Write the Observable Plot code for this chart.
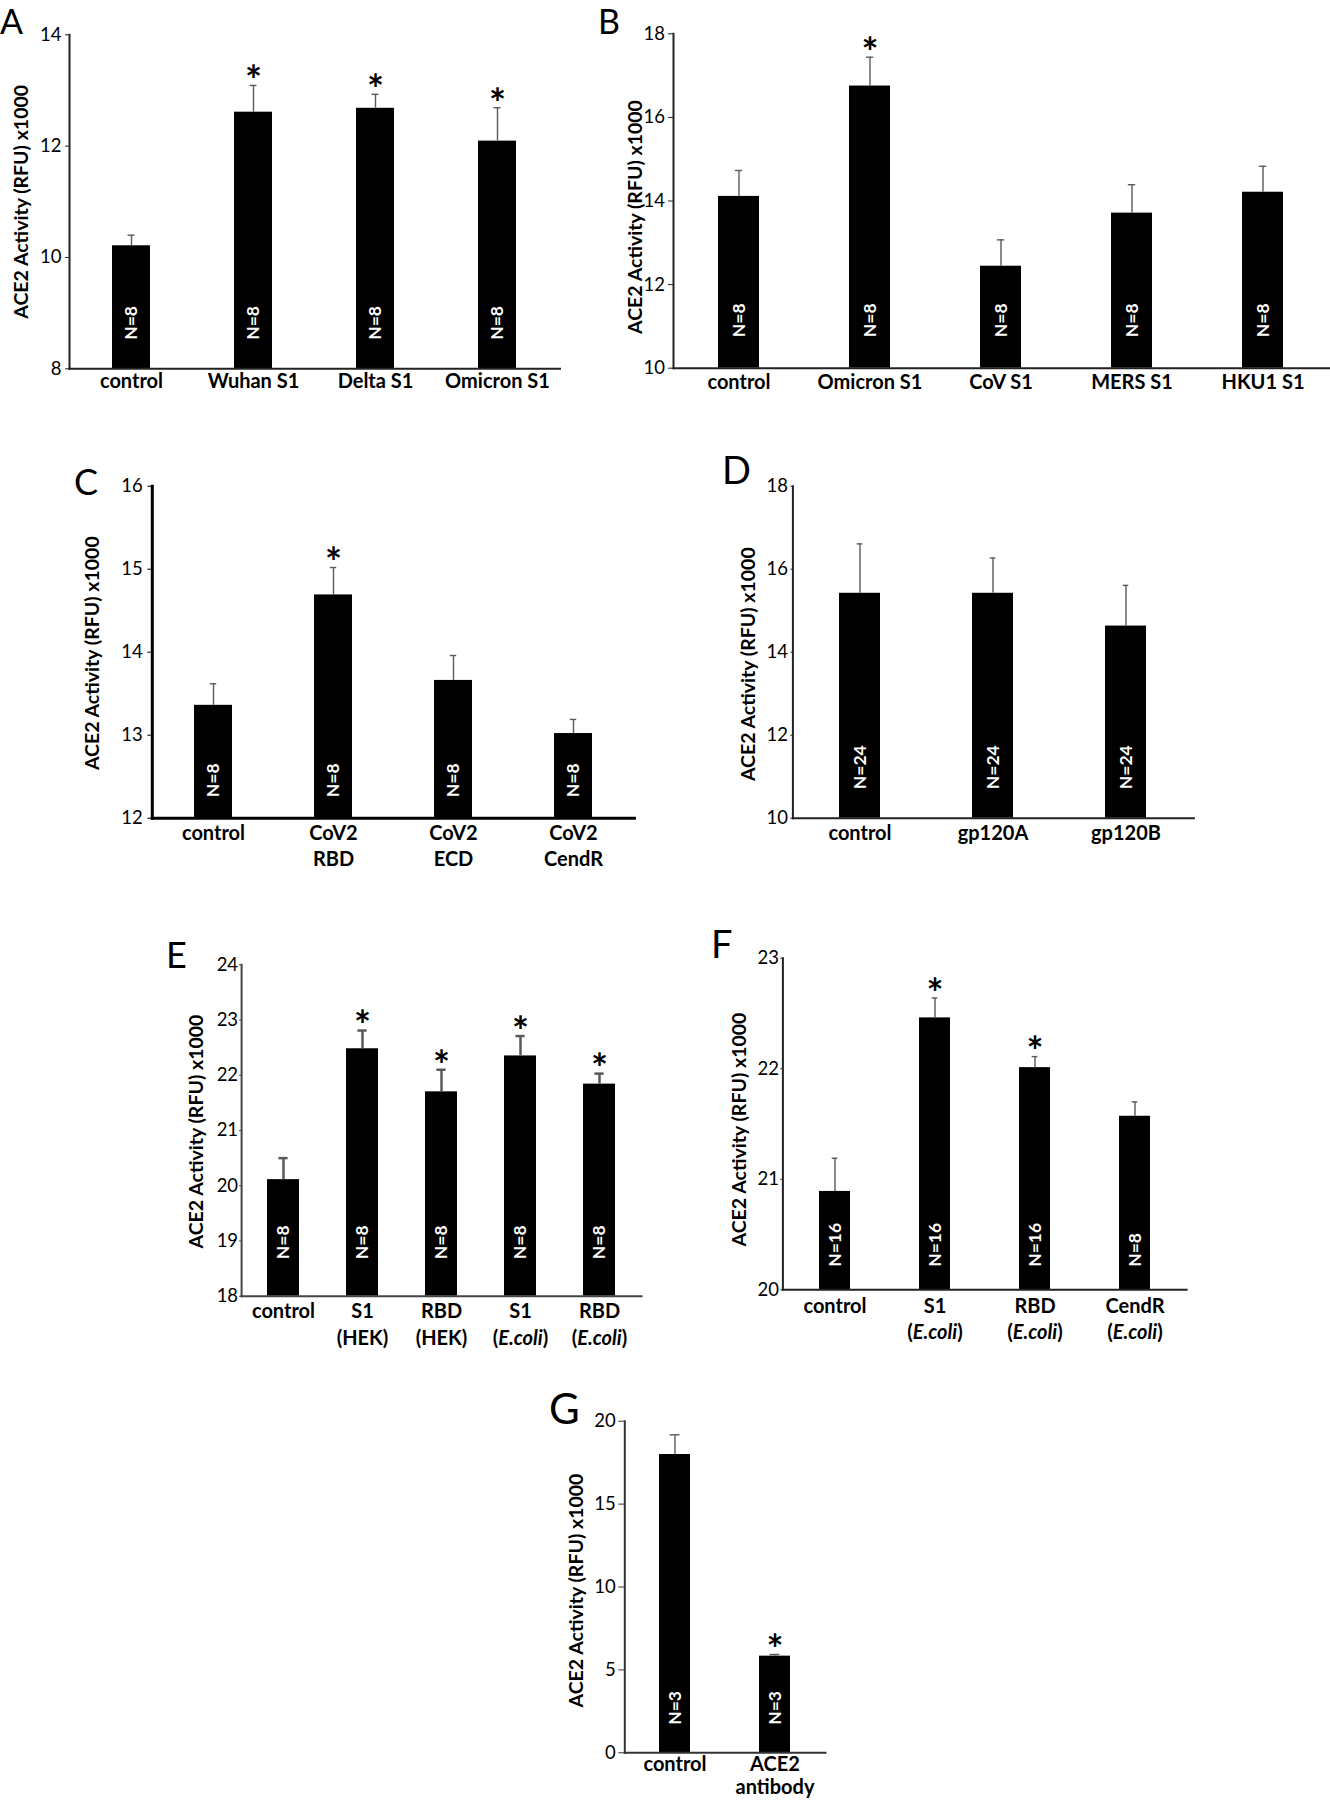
<!DOCTYPE html>
<html><head><meta charset="utf-8">
<script src="https://cdn.jsdelivr.net/npm/d3@7"></script>
<script src="https://cdn.jsdelivr.net/npm/@observablehq/plot@0.6"></script>
<style>
html,body{margin:0;padding:0;background:#fff;}
#page{position:relative;width:1330px;height:1800px;overflow:hidden;font-family:Lato,sans-serif;}
.panel{position:absolute;}
.letter{position:absolute;font-family:Lato,sans-serif;line-height:1;color:#000;font-weight:400;}
</style></head><body><div id="page"></div>
<script>
const yTitle = "ACE2 Activity (RFU) x1000";

// Panel A
const catsA = ["control", "Wuhan S1", "Delta S1", "Omicron S1"];
const meanA = [10.21, 12.61, 12.68, 12.09];
const errA = [0.19, 0.48, 0.25, 0.60];
const nA = ["N=8", "N=8", "N=8", "N=8"];
const starA = [false, true, true, true];
const ticksA = [8, 10, 12, 14];

// Panel B
const catsB = ["control", "Omicron S1", "CoV S1", "MERS S1", "HKU1 S1"];
const meanB = [14.11, 16.75, 12.44, 13.71, 14.21];
const errB = [0.62, 0.69, 0.63, 0.68, 0.62];
const nB = ["N=8", "N=8", "N=8", "N=8", "N=8"];
const starB = [false, true, false, false, false];
const ticksB = [10, 12, 14, 16, 18];

// Panel C
const catsC = ["control", "CoV2\nRBD", "CoV2\nECD", "CoV2\nCendR"];
const meanC = [13.36, 14.69, 13.66, 13.02];
const errC = [0.26, 0.33, 0.30, 0.17];
const nC = ["N=8", "N=8", "N=8", "N=8"];
const starC = [false, true, false, false];
const ticksC = [12, 13, 14, 15, 16];

// Panel D
const catsD = ["control", "gp120A", "gp120B"];
const meanD = [15.42, 15.42, 14.63];
const errD = [1.19, 0.85, 0.98];
const nD = ["N=24", "N=24", "N=24"];
const starD = [false, false, false];
const ticksD = [10, 12, 14, 16, 18];

// Panel E
const catsE = ["control", "S1\n(HEK)", "RBD\n(HEK)", "S1\n(E.coli)", "RBD\n(E.coli)"];
const meanE = [20.11, 22.48, 21.70, 22.35, 21.84];
const errE = [0.39, 0.33, 0.40, 0.36, 0.19];
const nE = ["N=8", "N=8", "N=8", "N=8", "N=8"];
const starE = [false, true, true, true, true];
const ticksE = [18, 19, 20, 21, 22, 23, 24];

// Panel F
const catsF = ["control", "S1\n(E.coli)", "RBD\n(E.coli)", "CendR\n(E.coli)"];
const meanF = [20.89, 22.46, 22.01, 21.57];
const errF = [0.30, 0.18, 0.10, 0.13];
const nF = ["N=16", "N=16", "N=16", "N=8"];
const starF = [false, true, true, false];
const ticksF = [20, 21, 22, 23];

// Panel G
const catsG = ["control", "ACE2\nantibody"];
const meanG = [17.99, 5.83];
const errG = [1.19, 0.10];
const nG = ["N=3", "N=3"];
const starG = [false, true];
const ticksG = [0, 5, 10, 15, 20];

const panels = [
  {key: "A", cats: catsA, means: meanA, errs: errA, ns: nA, stars: starA, ticks: ticksA},
  {key: "B", cats: catsB, means: meanB, errs: errB, ns: nB, stars: starB, ticks: ticksB},
  {key: "C", cats: catsC, means: meanC, errs: errC, ns: nC, stars: starC, ticks: ticksC},
  {key: "D", cats: catsD, means: meanD, errs: errD, ns: nD, stars: starD, ticks: ticksD},
  {key: "E", cats: catsE, means: meanE, errs: errE, ns: nE, stars: starE, ticks: ticksE},
  {key: "F", cats: catsF, means: meanF, errs: errF, ns: nF, stars: starF, ticks: ticksF},
  {key: "G", cats: catsG, means: meanG, errs: errG, ns: nG, stars: starG, ticks: ticksG}
];

// layout (positions, sizes, styles)
const layout = {
  A: {left: 0, top: 0, width: 580, height: 420, mL: 69, mR: 20.5, mT: 34.3, mB: 51.7, pad: 0.69,
      tickSize: 4, tickPad: 4, xPad: 0.5, lh: 1.33, nOff: 29, tDx: -48, tDy: 0, capW: 7, errW: 1.4,
      axisW: 2, axisC: "#222", letter: {x: 0, y: 4, size: 34}},
  B: {left: 600, top: 0, width: 730, height: 420, mL: 73, mR: 1.5, mT: 33.3, mB: 52.3, pad: 0.69,
      tickSize: 5, tickPad: 3.5, xPad: 2.2, lh: 1.33, nOff: 31, tDx: -38, tDy: 16, capW: 7, errW: 1.4,
      axisW: 2, axisC: "#222", letter: {x: 598, y: 4, size: 34}},
  C: {left: 0, top: 440, width: 660, height: 450, mL: 151.8, mR: 26.1, mT: 45.7, mB: 72.3, pad: 0.68,
      tickSize: 4.5, tickPad: 5, xPad: 2.8, lh: 1.33, nOff: 21, tDx: -60, tDy: 1, capW: 7, errW: 1.4,
      axisW: 3, axisC: "#000", letter: {x: 74, y: 462.9, size: 36}},
  D: {left: 700, top: 440, width: 520, height: 450, mL: 92.4, mR: 26.6, mT: 45.7, mB: 72.3, pad: 0.69,
      tickSize: 2, tickPad: 3, xPad: 2.8, lh: 1.33, nOff: 29, tDx: -44, tDy: 12, capW: 6, errW: 1.4,
      axisW: 2, axisC: "#222", letter: {x: 722, y: 449.5, size: 38}},
  E: {left: 150, top: 920, width: 510, height: 440, mL: 91.1, mR: 19, mT: 44.3, mB: 64.3, pad: 0.59,
      tickSize: 2, tickPad: 1.5, xPad: 3.2, lh: 1.33, nOff: 37, tDx: -44.4, tDy: 1, capW: 10, errW: 2.5,
      axisW: 2, axisC: "#444", letter: {x: 166, y: 935.9, size: 36}},
  F: {left: 700, top: 920, width: 510, height: 440, mL: 82.4, mR: 23.9, mT: 37.7, mB: 70.7, pad: 0.69,
      tickSize: 2, tickPad: 2, xPad: 4.6, lh: 1.3, nOff: 23, tDx: -43.4, tDy: 5.5, capW: 6, errW: 1.4,
      axisW: 2, axisC: "#222", letter: {x: 711, y: 923.5, size: 38}},
  G: {left: 500, top: 1380, width: 345, height: 420, mL: 124.3, mR: 20, mT: 40.7, mB: 47.7, pad: 0.69,
      tickSize: 6, tickPad: 3, xPad: 1.6, lh: 1.17, nOff: 28, tDx: -47.6, tDy: 3.5, capW: 10, errW: 1.4,
      axisW: 2, axisC: "#333", letter: {x: 549, y: 1386.8, size: 42}}
};

const page = document.getElementById("page");
const svgNS = "http://www.w3.org/2000/svg";

for (const p of panels) {
  const L = layout[p.key];
  const rows = p.cats.map((c, i) => ({cat: c, mean: p.means[i], err: p.errs[i], n: p.ns[i], star: p.stars[i]}));
  const yMin = p.ticks[0], yMax = p.ticks[p.ticks.length - 1];
  const step = (L.width - L.mL - L.mR) / p.cats.length;
  const bw = step * (1 - L.pad);
  const inset = Math.max(0, (bw - L.capW) / 2);
  const chart = Plot.plot({
    width: L.width, height: L.height,
    marginLeft: L.mL, marginRight: L.mR, marginTop: L.mT, marginBottom: L.mB,
    x: {domain: p.cats, paddingInner: L.pad, paddingOuter: L.pad / 2, axis: null},
    y: {domain: [yMin, yMax], axis: null},
    style: {fontFamily: "Lato, sans-serif", fontSize: "18px", color: "#000", background: "transparent", overflow: "visible"},
    marks: [
      Plot.barY(rows, {x: "cat", y1: () => yMin, y2: "mean", fill: "#000"}),
      Plot.ruleX(rows, {x: "cat", y1: "mean", y2: d => d.mean + d.err, stroke: "#5a5a5a", strokeWidth: L.errW}),
      Plot.tickY(rows, {x: "cat", y: d => d.mean + d.err, stroke: "#5a5a5a", strokeWidth: L.errW, insetLeft: inset, insetRight: inset}),
      Plot.text(rows, {x: "cat", frameAnchor: "bottom", text: "n", rotate: -90, textAnchor: "start", lineAnchor: "middle",
        dy: -L.nOff, fill: "#fff", fontWeight: "bold", fontSize: 17.5}),
      Plot.text(rows.filter(d => d.star), {x: "cat", y: d => d.mean + d.err, text: () => "*", lineAnchor: "middle",
        dy: -3, fontSize: 40, fontWeight: "bold", fill: "#000"}),
      Plot.frame({anchor: "left", stroke: L.axisC, strokeWidth: L.axisW}),
      Plot.frame({anchor: "bottom", stroke: L.axisC, strokeWidth: L.axisW}),
      Plot.axisY({ticks: p.ticks, tickFormat: d => String(d), tickSize: L.tickSize, tickPadding: L.tickPad,
        fontSize: 18.5, label: null, stroke: L.axisC}),
      Plot.axisX({tickSize: 0, tickPadding: L.xPad, fontSize: 20, fontWeight: "bold", label: null, lineHeight: L.lh}),
      Plot.text([yTitle], {frameAnchor: "left", text: d => d, rotate: -90, textAnchor: "middle", lineAnchor: "middle",
        dx: L.tDx, dy: L.tDy, fontWeight: "bold", fontSize: 19.5, fill: "#000"})
    ]
  });
  // italicise species name inside parentheses
  chart.querySelectorAll("tspan, text").forEach(t => {
    if (t.children.length === 0 && t.textContent === "(E.coli)") {
      t.textContent = "";
      t.append("(");
      const it = document.createElementNS(svgNS, "tspan");
      it.setAttribute("font-style", "italic");
      it.textContent = "E.coli";
      t.append(it);
      t.append(")");
    }
  });
  const holder = document.createElement("div");
  holder.className = "panel";
  holder.style.left = L.left + "px";
  holder.style.top = L.top + "px";
  holder.appendChild(chart);
  page.appendChild(holder);

  const letter = document.createElement("div");
  letter.className = "letter";
  letter.textContent = p.key;
  letter.style.left = Math.max(0, L.letter.x) + "px";
  letter.style.top = L.letter.y + "px";
  letter.style.fontSize = L.letter.size + "px";
  page.appendChild(letter);
}
</script>
</body></html>
